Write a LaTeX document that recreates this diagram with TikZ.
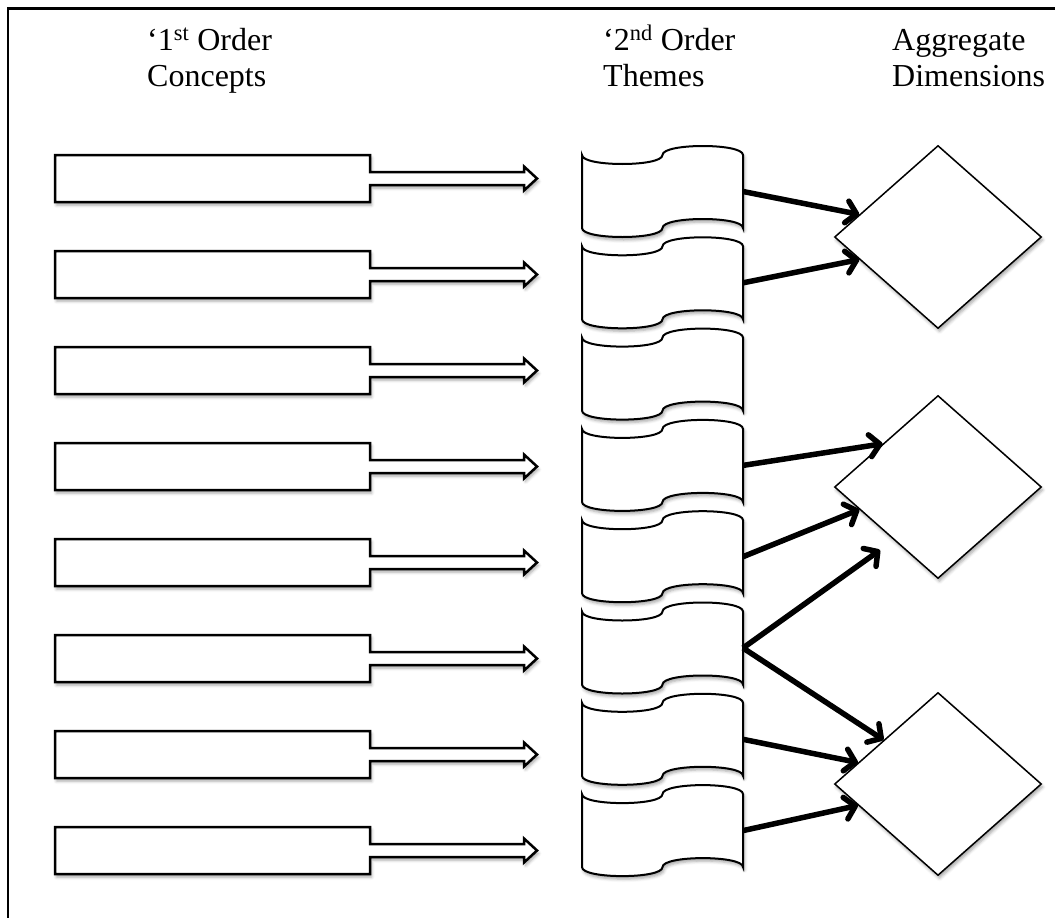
\documentclass[tikz,border=0pt]{standalone}
\usepackage{fontspec}
\setmainfont{Liberation Serif}
\usetikzlibrary{arrows.meta,shapes.geometric,shadows.blur}

\begin{document}
\begin{tikzpicture}[
  x=1pt,y=-1pt,
  font=\fontsize{32}{36}\selectfont,
  head/.style={anchor=base west,align=left,inner sep=0pt},
  slot/.style={inner sep=0pt,outer sep=0pt,minimum width=315pt,minimum height=47pt},
  band/.style={inner sep=0pt,outer sep=0pt,minimum width=161pt,minimum height=73pt},
  soft/.style={blur shadow={shadow xshift=1.5pt,shadow yshift=-3pt,shadow blur radius=3pt,shadow opacity=35}},
  outline/.style={draw=black,fill=white,line width=2.5pt,soft},
  dim/.style={diamond,draw=black,fill=white,line width=1.5pt,inner sep=0pt,minimum width=207pt,minimum height=183pt,soft},
  link/.style={-{Straight Barb[length=10pt,width=22pt,round]},line width=5.5pt}
]
\useasboundingbox (0,0) rectangle (1055,918);

% frame (open at right and bottom)
\draw[line width=2.5pt] (1060,8.5) -- (8,8.5) -- (8,925);

% column headings
\node[head] (h1) at (147,86) {‘1\textsuperscript{st} Order\\Concepts};
\node[head] (h2) at (603,86) {‘2\textsuperscript{nd} Order\\Themes};
\node[head] (h3) at (892,86) {Aggregate\\Dimensions};

% 1st order concepts: boxes with hollow arrow
\foreach \i in {1,...,8} {
  \node[slot] (k\i) at (212.5,{178.5+96*(\i-1)}) {};
  \draw[outline] (k\i.north west) -- (k\i.north east) -- ++(0,17) -- ++(154,0)
    -- ++(0,-5.5) -- ++(13,12) -- ++(-13,12) -- ++(0,-5.5) -- ++(-154,0)
    -- (k\i.south east) -- (k\i.south west) -- cycle;
}

% 2nd order themes: wavy bands
\foreach \i in {1,...,8} {
  \node[band] (t\i) at (662.5,{191.5+91.3*(\i-1)}) {};
  \draw[outline,line width=2pt] (t\i.north west)
    .. controls +(0,12) and +(0,12) .. (t\i.north)
    .. controls +(0,-12) and +(0,-12) .. (t\i.north east) -- (t\i.south east)
    .. controls +(0,-12) and +(0,-12) .. (t\i.south)
    .. controls +(0,12) and +(0,12) .. (t\i.south west) -- cycle;
}

% aggregate dimensions
\node[dim] (d1) at (938,237) {};
\node[dim] (d2) at (938,487) {};
\node[dim] (d3) at (938,784) {};
\coordinate (d2low) at (880,550);

% links themes -> dimensions
\draw[link] (t1.east) -- (d1.164);
\draw[link] (t2.east) -- (d1.196);
\draw[link] (t4.east) -- (d2.142);
\draw[link] (t5.east) -- (d2.196);
\draw[link] (t6.east) -- (d2low);
\draw[link] (t6.east) -- (d3.141);
\draw[link] (t7.east) -- (d3.165);
\draw[link] (t8.east) -- (d3.195);
\end{tikzpicture}
\end{document}
